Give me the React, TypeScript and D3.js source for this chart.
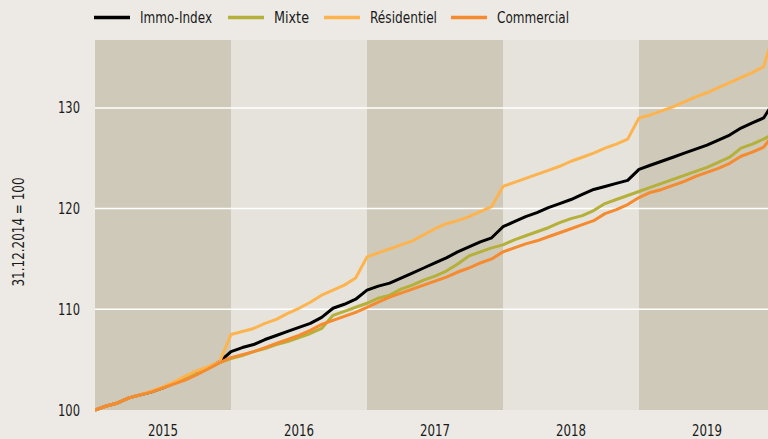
import React from "react";
import * as d3 from "d3";

const years = ["2015", "2016", "2017", "2018", "2019"];
const yTicks = [100, 110, 120, 130];
const seriesNames = ["Immo-Index", "Mixte", "Résidentiel", "Commercial"];
const seriesColors = ["#000000", "#b4b03a", "#fdb44f", "#f58a2e"];

// monthly index values, 31.12.2014 = 100 (month ends Dec 2014 .. Dec 2019)
const immo = [
  100, 100.4, 100.7, 101.2, 101.5, 101.8, 102.2, 102.7, 103.3, 103.7, 104.2, 104.8,
  105.8, 106.2, 106.5, 107.0, 107.4, 107.8, 108.2, 108.6, 109.2, 110.1, 110.5, 111.0,
  111.9, 112.3, 112.6, 113.1, 113.6, 114.1, 114.6, 115.1, 115.7, 116.2, 116.7, 117.1,
  118.2, 118.7, 119.2, 119.6, 120.1, 120.5, 120.9, 121.4, 121.9, 122.2, 122.5, 122.8,
  123.9, 124.3, 124.7, 125.1, 125.5, 125.9, 126.3, 126.8, 127.3, 128.0, 128.5, 129.0, 130.8,
];
const mixte = [
  100, 100.4, 100.7, 101.2, 101.5, 101.8, 102.2, 102.7, 103.2, 103.6, 104.1, 104.7,
  105.1, 105.4, 105.8, 106.1, 106.5, 106.8, 107.2, 107.6, 108.1, 109.4, 109.8, 110.2,
  110.6, 111.1, 111.4, 112.0, 112.4, 112.9, 113.3, 113.8, 114.5, 115.3, 115.7, 116.1,
  116.4, 116.9, 117.3, 117.7, 118.1, 118.6, 119.0, 119.3, 119.8, 120.5, 120.9, 121.3,
  121.7, 122.1, 122.5, 122.9, 123.3, 123.7, 124.1, 124.6, 125.1, 126.0, 126.4, 126.9, 127.5,
];
const residentiel = [
  100, 100.4, 100.7, 101.2, 101.5, 101.9, 102.3, 102.8, 103.4, 103.9, 104.3, 104.8,
  107.5, 107.8, 108.1, 108.6, 109.0, 109.6, 110.1, 110.7, 111.4, 111.9, 112.4, 113.1,
  115.2, 115.6, 116.0, 116.4, 116.8, 117.4, 118.0, 118.5, 118.8, 119.2, 119.7, 120.2,
  122.2, 122.6, 123.0, 123.4, 123.8, 124.2, 124.7, 125.1, 125.5, 126.0, 126.4, 126.9,
  129.0, 129.3, 129.7, 130.1, 130.6, 131.1, 131.5, 132.0, 132.5, 133.0, 133.5, 134.1, 137.8,
];
const commercial = [
  100, 100.4, 100.7, 101.2, 101.5, 101.8, 102.2, 102.6, 103.0, 103.5, 104.1, 104.7,
  105.2, 105.5, 105.8, 106.2, 106.6, 107.0, 107.4, 107.9, 108.5, 108.9, 109.3, 109.7,
  110.2, 110.7, 111.2, 111.6, 112.0, 112.4, 112.8, 113.2, 113.7, 114.1, 114.6, 115.0,
  115.7, 116.1, 116.5, 116.8, 117.2, 117.6, 118.0, 118.4, 118.8, 119.5, 119.9, 120.4,
  121.1, 121.6, 121.9, 122.3, 122.7, 123.2, 123.6, 124.0, 124.5, 125.2, 125.6, 126.1, 127.6,
];
const seriesValues = [immo, mixte, residentiel, commercial];

const W = 768;
const H = 439;
const FONT = "'Liberation Sans Narrow', 'DejaVu Sans Condensed', 'Arial Narrow', sans-serif";

export default function App() {
  const left = 95;
  const right = 775;
  const top = 40;
  const bottom = 410;
  const x = d3.scaleLinear().domain([0, 60]).range([left, right]);
  const y = d3.scaleLinear().domain([100, 136.74]).range([bottom, top]);
  const line = d3
    .line<number>()
    .x((_, i) => x(i))
    .y((d) => y(d));

  const legendX = [94, 228, 324, 451];
  const legendLen = [72, 35, 67, 72];

  return (
    <svg
      width={W}
      height={H}
      style={{ position: "absolute", left: 0, top: 0, background: "#edeae5" }}
      fontFamily={FONT}
    >
      <defs>
        <clipPath id="plot">
          <rect x={left} y={top - 10} width={right - left} height={bottom - top + 12} />
        </clipPath>
      </defs>
      {years.map((yr, k) => (
        <g key={yr}>
          <rect
            x={x(k * 12)}
            y={top}
            width={x((k + 1) * 12) - x(k * 12)}
            height={bottom - top}
            fill={k % 2 === 0 ? "#cfc9b9" : "#e5e3dc"}
          />
          <text
            x={(x(k * 12) + x((k + 1) * 12)) / 2 - (k === 4 ? 0 : 0)}
            y={436}
            textAnchor="middle"
            fontSize={15}
            textLength={30}
            lengthAdjust="spacingAndGlyphs"
            fill="#1a1a1a"
          >
            {yr}
          </text>
        </g>
      ))}
      {yTicks.map((t) => (
        <g key={t}>
          {t > 100 && (
            <line x1={left} x2={right} y1={y(t)} y2={y(t)} stroke="#ffffff" strokeWidth={1.5} />
          )}
          <text
            x={80}
            y={y(t) + 5.5}
            textAnchor="end"
            fontSize={15}
            textLength={22}
            lengthAdjust="spacingAndGlyphs"
            fill="#1a1a1a"
          >
            {t}
          </text>
        </g>
      ))}
      <text
        transform={`translate(23.5, ${(top + bottom) / 2 + 7}) rotate(-90)`}
        textAnchor="middle"
        fontSize={15}
        textLength={109}
        lengthAdjust="spacingAndGlyphs"
        fill="#1a1a1a"
      >
        31.12.2014 = 100
      </text>
      <g clipPath="url(#plot)">
        {seriesValues.map((vals, s) => (
          <path
            key={seriesNames[s]}
            d={line(vals) || ""}
            fill="none"
            stroke={seriesColors[s]}
            strokeWidth={3}
            strokeLinejoin="round"
          />
        ))}
      </g>
      {seriesNames.map((n, s) => (
        <g key={n}>
          <line
            x1={legendX[s]}
            x2={legendX[s] + 36}
            y1={17.5}
            y2={17.5}
            stroke={seriesColors[s]}
            strokeWidth={3.5}
          />
          <text
            x={legendX[s] + 46}
            y={23}
            fontSize={15}
            textLength={legendLen[s]}
            lengthAdjust="spacingAndGlyphs"
            fill="#1a1a1a"
          >
            {n}
          </text>
        </g>
      ))}
    </svg>
  );
}
